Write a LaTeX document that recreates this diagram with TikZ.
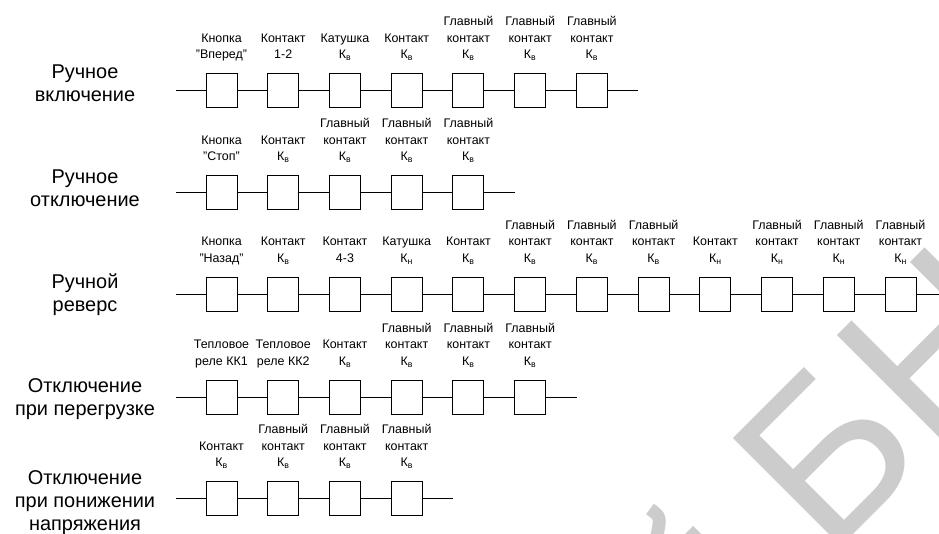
\documentclass[tikz,border=0pt]{standalone}
\usepackage{fontspec}
\setmainfont{Liberation Sans}
\newcommand\lstk[2]{\vbox{\baselineskip=#1\lineskiplimit=-100bp\lineskip=0pt\halign{\hfil##\hfil\cr#2\crcr}}}
\newcommand\Kv{К\textsubscript{в}}
\newcommand\Kn{К\textsubscript{н}}
\tikzset{
  sw/.style={draw, line width=1bp, minimum width=31bp, minimum height=34bp, inner sep=0pt, fill=white},
  wire/.style={line width=1bp},
  lbl/.style={anchor=base, inner sep=0pt, font=\fontsize{12.5}{15}\selectfont},
  rowlbl/.style={anchor=base, inner sep=0pt, font=\fontsize{20}{23}\selectfont},
  wmark/.style={rotate=45, anchor=base west, inner sep=0pt, text=gray!40, font=\fontsize{223}{223}\selectfont},
  wstroke/.style={draw=gray!40, line width=13bp}
}
\begin{document}
\begin{tikzpicture}[x=1bp, y=-1bp]
\useasboundingbox (0,0) rectangle (939,534);
\fill[white] (0,0) rectangle (939,534);
\begin{scope}
\clip (0,0) rectangle (939,534);
\node[wmark] (wm) at (828.8,559.2) {БН};
\draw[wstroke] (650,509) .. controls (661,517) .. (656,540);
\fill[gray!40] (683,536) -- (693,526) -- (703,536) -- cycle;
\end{scope}

% Row 1
\node[rowlbl] (t1) at (85,102) {\lstk{23bp}{Ручное\cr включение}};
\coordinate (r1s) at (176,91);
\coordinate (r1e) at (638,91);
\foreach \i/\t in {0/{Кнопка\cr"Вперед"},1/{Контакт\cr 1-2},2/{Катушка\cr\Kv},3/{Контакт\cr\Kv},4/{Главный\cr контакт\cr\Kv},5/{Главный\cr контакт\cr\Kv},6/{Главный\cr контакт\cr\Kv}}{
  \node[sw] (r1b\i) at ({221.5+61.73*\i},91) {};
  \node[lbl] (r1l\i) at ({221.5+61.73*\i},59) {\lstk{16.5bp}{\t}};
}
\draw[wire] (r1s) -- (r1b0.west);
\foreach \i [evaluate=\i as \j using int(\i+1)] in {0,...,5}{\draw[wire] (r1b\i.east) -- (r1b\j.west);}
\draw[wire] (r1b6.east) -- (r1e);

% Row 2
\node[rowlbl] (t2) at (85,207) {\lstk{23bp}{Ручное\cr отключение}};
\coordinate (r2s) at (176,193);
\coordinate (r2e) at (515,193);
\foreach \i/\t in {0/{Кнопка\cr"Стоп"},1/{Контакт\cr\Kv},2/{Главный\cr контакт\cr\Kv},3/{Главный\cr контакт\cr\Kv},4/{Главный\cr контакт\cr\Kv}}{
  \node[sw] (r2b\i) at ({221.5+61.73*\i},193) {};
  \node[lbl] (r2l\i) at ({221.5+61.73*\i},161) {\lstk{16.5bp}{\t}};
}
\draw[wire] (r2s) -- (r2b0.west);
\foreach \i [evaluate=\i as \j using int(\i+1)] in {0,...,3}{\draw[wire] (r2b\i.east) -- (r2b\j.west);}
\draw[wire] (r2b4.east) -- (r2e);

% Row 3
\node[rowlbl] (t3) at (85,312) {\lstk{23bp}{Ручной\cr реверс}};
\coordinate (r3s) at (176,294.5);
\coordinate (r3e) at (947,294.5);
\foreach \i/\t in {0/{Кнопка\cr"Назад"},1/{Контакт\cr\Kv},2/{Контакт\cr 4-3},3/{Катушка\cr\Kn},4/{Контакт\cr\Kv},5/{Главный\cr контакт\cr\Kv},6/{Главный\cr контакт\cr\Kv},7/{Главный\cr контакт\cr\Kv},8/{Контакт\cr\Kn},9/{Главный\cr контакт\cr\Kn},10/{Главный\cr контакт\cr\Kn},11/{Главный\cr контакт\cr\Kn}}{
  \node[sw] (r3b\i) at ({221.5+61.73*\i},294.5) {};
  \node[lbl] (r3l\i) at ({221.5+61.73*\i},262.5) {\lstk{16.5bp}{\t}};
}
\draw[wire] (r3s) -- (r3b0.west);
\foreach \i [evaluate=\i as \j using int(\i+1)] in {0,...,10}{\draw[wire] (r3b\i.east) -- (r3b\j.west);}
\draw[wire] (r3b11.east) -- (r3e);

% Row 4
\node[rowlbl] (t4) at (85,415) {\lstk{23bp}{Отключение\cr при перегрузке}};
\coordinate (r4s) at (176,397.5);
\coordinate (r4e) at (576.7,397.5);
\foreach \i/\t in {0/{Тепловое\cr реле КК1},1/{Тепловое\cr реле КК2},2/{Контакт\cr\Kv},3/{Главный\cr контакт\cr\Kv},4/{Главный\cr контакт\cr\Kv},5/{Главный\cr контакт\cr\Kv}}{
  \node[sw] (r4b\i) at ({221.5+61.73*\i},397.5) {};
  \node[lbl] (r4l\i) at ({221.5+61.73*\i},365.5) {\lstk{16.5bp}{\t}};
}
\draw[wire] (r4s) -- (r4b0.west);
\foreach \i [evaluate=\i as \j using int(\i+1)] in {0,...,4}{\draw[wire] (r4b\i.east) -- (r4b\j.west);}
\draw[wire] (r4b5.east) -- (r4e);

% Row 5
\node[rowlbl] (t5) at (85,530) {\lstk{23bp}{Отключение\cr при понижении\cr напряжения}};
\coordinate (r5s) at (176,498.5);
\coordinate (r5e) at (453,498.5);
\foreach \i/\t in {0/{Контакт\cr\Kv},1/{Главный\cr контакт\cr\Kv},2/{Главный\cr контакт\cr\Kv},3/{Главный\cr контакт\cr\Kv}}{
  \node[sw] (r5b\i) at ({221.5+61.73*\i},498.5) {};
  \node[lbl] (r5l\i) at ({221.5+61.73*\i},466.5) {\lstk{16.5bp}{\t}};
}
\draw[wire] (r5s) -- (r5b0.west);
\foreach \i [evaluate=\i as \j using int(\i+1)] in {0,...,2}{\draw[wire] (r5b\i.east) -- (r5b\j.west);}
\draw[wire] (r5b3.east) -- (r5e);
\end{tikzpicture}
\end{document}
